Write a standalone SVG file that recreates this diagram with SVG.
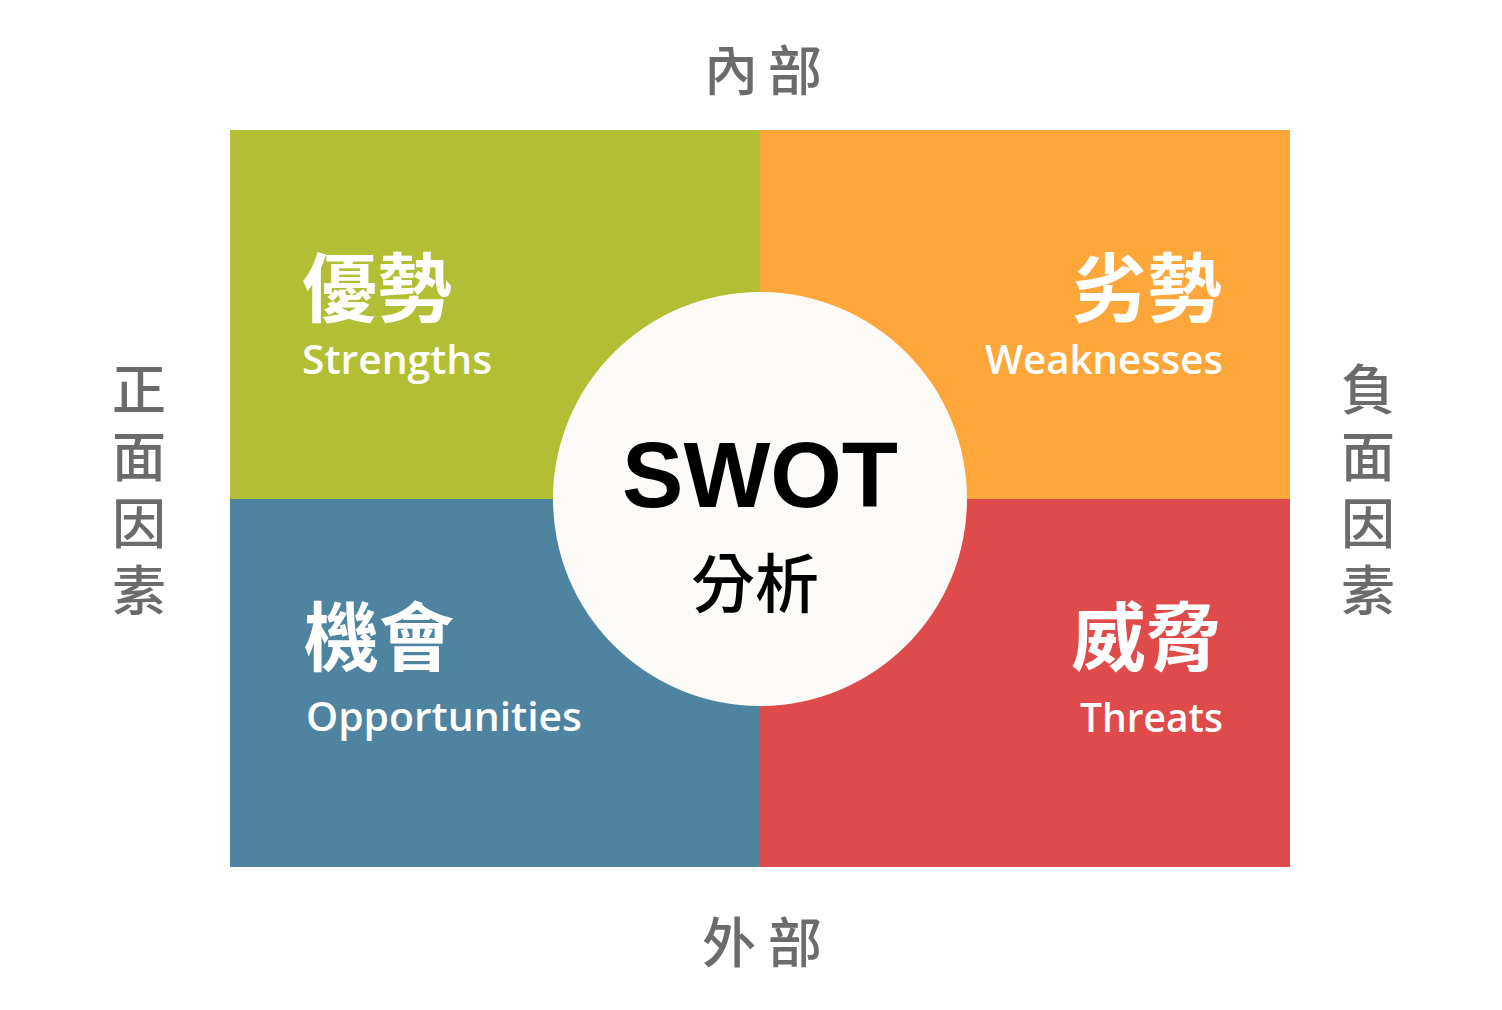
<svg xmlns="http://www.w3.org/2000/svg" width="1502" height="1010" viewBox="0 0 1502 1010">
  <style>
    .axis { font-family: "Noto Sans CJK TC", "Noto Sans CJK SC", sans-serif; font-size: 54px; fill: #6b6b6b; font-weight: 500; }
    .vert { writing-mode: vertical-rl; text-orientation: upright; letter-spacing: 13px; }
    .qzh { font-family: "Noto Sans CJK TC", "Noto Sans CJK SC", sans-serif; font-size: 75px; fill: #ffffff; font-weight: 700; }
    .qen { font-family: "Open Sans", "Noto Sans", sans-serif; font-size: 40px; fill: #ffffff; font-weight: 600; }
    .swot { font-family: "Liberation Sans", Arial, sans-serif; font-size: 92px; font-weight: 700; fill: #000000; }
    .swotzh { font-family: "Noto Sans CJK TC", "Noto Sans CJK SC", sans-serif; font-size: 64px; fill: #000000; font-weight: 500; }
  </style>
  <rect width="1502" height="1010" fill="#ffffff"/>

  <g id="strengths">
    <rect x="230" y="130" width="530" height="369" fill="#b2be34"/>
    <text class="qzh" x="302" y="316">優勢</text>
    <text class="qen" x="302" y="374" textLength="190" lengthAdjust="spacingAndGlyphs">Strengths</text>
  </g>
  <g id="weaknesses">
    <rect x="760" y="130" width="530" height="369" fill="#fda63a"/>
    <text class="qzh" x="1222" y="316" text-anchor="end">劣勢</text>
    <text class="qen" x="1223" y="374" text-anchor="end" textLength="238" lengthAdjust="spacingAndGlyphs">Weaknesses</text>
  </g>
  <g id="opportunities">
    <rect x="230" y="499" width="530" height="368" fill="#4e849f"/>
    <text class="qzh" x="304" y="665">機會</text>
    <text class="qen" x="306" y="731" textLength="276" lengthAdjust="spacingAndGlyphs">Opportunities</text>
  </g>
  <g id="threats">
    <rect x="760" y="499" width="530" height="368" fill="#de4b4a"/>
    <text class="qzh" x="1221" y="665" text-anchor="end">威脅</text>
    <text class="qen" x="1223" y="732" text-anchor="end" textLength="143" lengthAdjust="spacingAndGlyphs">Threats</text>
  </g>

  <g id="center">
    <circle cx="760" cy="499" r="207" fill="#fdfbf7"/>
    <text class="swot" x="760" y="507" text-anchor="middle">SWOT</text>
    <text class="swotzh" x="755" y="607" text-anchor="middle">分析</text>
  </g>

  <g id="connectors"></g>

  <g id="label-internal">
    <text class="axis" y="91"><tspan x="704">內</tspan><tspan x="768">部</tspan></text>
  </g>
  <g id="label-external">
    <text class="axis" y="963"><tspan x="702">外</tspan><tspan x="768">部</tspan></text>
  </g>
  <g id="label-positive">
    <text class="axis vert" x="139" y="362">正面因素</text>
  </g>
  <g id="label-negative">
    <text class="axis vert" x="1368" y="362">負面因素</text>
  </g>
</svg>
